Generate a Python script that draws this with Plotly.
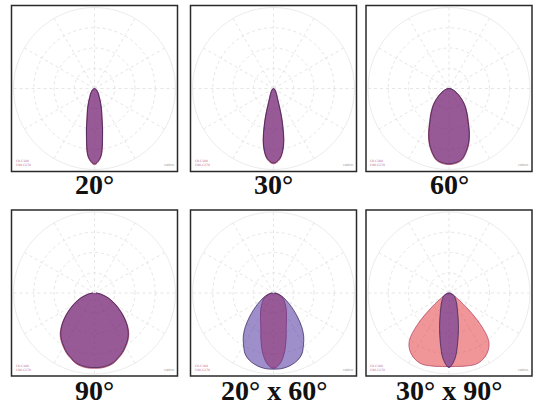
import plotly.graph_objects as go

# Polar angles (degrees from nadir) for the half-curves; mirrored for the full lobe
angles = [0, 5, 10, 15, 20, 25, 30, 35, 40, 45, 50, 55, 60, 65, 70, 75, 80, 85, 90]

# Relative intensity (fraction of the outer ring) per panel, two C-planes each
p20_c0 = [0.94, 0.86, 0.58, 0.36, 0.25, 0.17, 0.12, 0.09, 0.07, 0.05, 0.04, 0.03, 0.02, 0.015, 0.01, 0.005, 0.0, 0.0, 0.0]
p20_c90 = [0.93, 0.85, 0.57, 0.35, 0.24, 0.16, 0.11, 0.09, 0.07, 0.05, 0.04, 0.03, 0.02, 0.015, 0.01, 0.005, 0.0, 0.0, 0.0]
p30_c0 = [0.93, 0.88, 0.72, 0.42, 0.18, 0.10, 0.07, 0.05, 0.04, 0.03, 0.02, 0.01, 0.01, 0.0, 0.0, 0.0, 0.0, 0.0, 0.0]
p30_c90 = [0.92, 0.87, 0.71, 0.41, 0.17, 0.10, 0.07, 0.05, 0.04, 0.03, 0.02, 0.01, 0.01, 0.0, 0.0, 0.0, 0.0, 0.0, 0.0]
p60_c0 = [0.94, 0.93, 0.90, 0.82, 0.72, 0.60, 0.48, 0.40, 0.33, 0.27, 0.21, 0.16, 0.12, 0.09, 0.06, 0.04, 0.03, 0.01, 0.0]
p60_c90 = [0.93, 0.92, 0.89, 0.81, 0.71, 0.59, 0.47, 0.39, 0.32, 0.26, 0.20, 0.15, 0.11, 0.08, 0.06, 0.04, 0.03, 0.01, 0.0]
p90_c0 = [0.93, 0.93, 0.92, 0.90, 0.86, 0.82, 0.77, 0.72, 0.66, 0.58, 0.49, 0.40, 0.32, 0.25, 0.19, 0.13, 0.08, 0.04, 0.02]
p90_c90 = [0.92, 0.92, 0.91, 0.89, 0.85, 0.81, 0.76, 0.71, 0.65, 0.57, 0.48, 0.39, 0.31, 0.24, 0.18, 0.12, 0.08, 0.04, 0.02]
p2060_c0 = [0.93, 0.88, 0.76, 0.60, 0.46, 0.38, 0.32, 0.28, 0.24, 0.21, 0.18, 0.16, 0.14, 0.12, 0.10, 0.07, 0.05, 0.03, 0.02]
p2060_c90 = [0.94, 0.94, 0.93, 0.91, 0.88, 0.83, 0.74, 0.65, 0.54, 0.42, 0.32, 0.24, 0.18, 0.14, 0.10, 0.07, 0.05, 0.03, 0.01]
p3090_c0 = [0.91, 0.91, 0.92, 0.93, 0.94, 0.93, 0.90, 0.85, 0.76, 0.55, 0.30, 0.15, 0.08, 0.05, 0.03, 0.02, 0.01, 0.0, 0.0]
p3090_c90 = [0.92, 0.82, 0.62, 0.45, 0.33, 0.25, 0.20, 0.17, 0.14, 0.12, 0.10, 0.09, 0.08, 0.06, 0.05, 0.03, 0.02, 0.01, 0.0]

NB = "\u00a0"
labels = ["20°", "30°", "60°", "90°",
          "20°" + NB + "x" + NB + "60°",
          "30°" + NB + "x" + NB + "90°"]

# (C0-C180 plane, C90-C270 plane, which is drawn first)
panels = [
    (p20_c0, p20_c90, "c0"),
    (p30_c0, p30_c90, "c0"),
    (p60_c0, p60_c90, "c0"),
    (p90_c0, p90_c90, "c0"),
    (p2060_c0, p2060_c90, "c0"),
    (p3090_c0, p3090_c90, "c0"),
]

W, H = 552, 410
col_cx = [94.5, 273.5, 449.0]
row_cy = [88.5, 293.0]
row_label_y = [185, 390]
box_half = 83
R = 81

RED_FILL = "rgba(225,45,50,0.50)"
RED_LINE = "rgba(160,40,80,0.75)"
BLUE_FILL = "rgba(62,30,150,0.50)"
BLUE_LINE = "rgba(45,25,80,0.85)"

fig = go.Figure()
layout_upd = {}
shapes = []
annotations = []


def full(vals):
    return list(reversed(vals)) + vals[1:]


theta = [-a for a in reversed(angles)] + angles[1:]

for i, (c0, c90, first) in enumerate(panels):
    r_i, c_i = divmod(i, 3)
    cx, cy = col_cx[c_i], row_cy[r_i]
    name = "polar" if i == 0 else f"polar{i+1}"

    traces = {
        "c0": go.Scatterpolar(r=full(c0), theta=theta, mode="lines", fill="toself",
                              fillcolor=RED_FILL, line=dict(color=RED_LINE, width=0.8, shape="spline"),
                              subplot=name, showlegend=False, hoverinfo="skip"),
        "c90": go.Scatterpolar(r=full(c90), theta=theta, mode="lines", fill="toself",
                               fillcolor=BLUE_FILL, line=dict(color=BLUE_LINE, width=0.8, shape="spline"),
                               subplot=name, showlegend=False, hoverinfo="skip"),
    }
    second = "c0" if first == "c90" else "c90"
    fig.add_trace(traces[first])
    fig.add_trace(traces[second])

    layout_upd[name] = dict(
        domain=dict(x=[(cx - R) / W, (cx + R) / W], y=[1 - (cy + R) / H, 1 - (cy - R) / H]),
        bgcolor="white",
        angularaxis=dict(rotation=270, direction="clockwise", dtick=30,
                         showticklabels=False, ticks="", showline=True,
                         linecolor="#ececec", linewidth=1,
                         gridcolor="#e6e6e6", griddash="dot", gridwidth=1),
        radialaxis=dict(range=[0, 1], tickvals=[0.25, 0.5, 0.75], showticklabels=False,
                        ticks="", showline=False, gridcolor="#e6e6e6", griddash="dot", gridwidth=1),
    )

    # panel frame
    shapes.append(dict(type="rect", xref="paper", yref="paper",
                       x0=(cx - box_half) / W, x1=(cx + box_half) / W,
                       y0=1 - (cy + box_half) / H, y1=1 - (cy - box_half) / H,
                       line=dict(color="#2a2a2a", width=1.5), layer="above"))
    # caption
    annotations.append(dict(text="<b>" + labels[i] + "</b>", xref="paper", yref="paper",
                            x=cx / W, y=1 - row_label_y[r_i] / H, showarrow=False,
                            xanchor="center", yanchor="middle",
                            font=dict(family="Liberation Serif", size=28, color="#111111")))
    # tiny legend marks in corners
    annotations.append(dict(text="C0-C180<br>C90-C270", xref="paper", yref="paper",
                            x=(cx - box_half + 2) / W, y=1 - (cy + box_half - 2) / H,
                            showarrow=False, xanchor="left", yanchor="bottom", align="left",
                            font=dict(family="DejaVu Sans", size=3, color="#c07090")))
    annotations.append(dict(text="cd/klm", xref="paper", yref="paper",
                            x=(cx + box_half - 2) / W, y=1 - (cy + box_half - 2) / H,
                            showarrow=False, xanchor="right", yanchor="bottom",
                            font=dict(family="DejaVu Sans", size=3, color="#888888")))

fig.update_layout(width=W, height=H, margin=dict(l=0, r=0, t=0, b=0),
                  paper_bgcolor="white", shapes=shapes, annotations=annotations,
                  showlegend=False, **layout_upd)

fig.write_html("out.html", config={"displayModeBar": False, "staticPlot": True},
               post_script="document.body.style.margin='0';document.body.style.overflow='hidden';")
